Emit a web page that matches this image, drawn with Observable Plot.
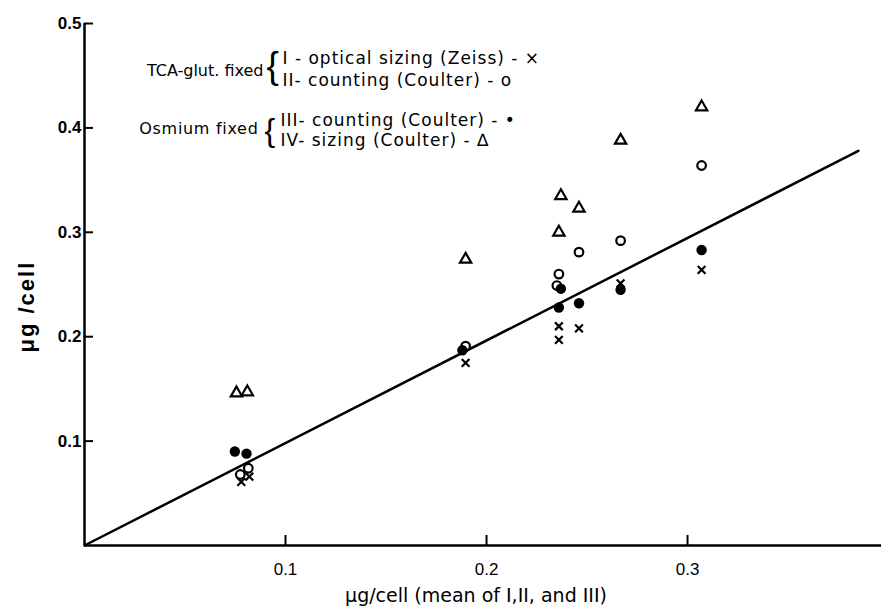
<!DOCTYPE html>
<html>
<head>
<meta charset="utf-8">
<script src="https://cdn.jsdelivr.net/npm/d3@7"></script>
<script src="https://cdn.jsdelivr.net/npm/@observablehq/plot@0.6"></script>
<style>
  html, body { margin: 0; padding: 0; background: #fff; }
  #chart { width: 881px; height: 609px; }
</style>
</head>
<body>
<div id="chart"></div>
<script>
// Series I – optical sizing (Zeiss), TCA-glut. fixed (×)
const seriesIX = [0.078, 0.082, 0.1896, 0.236, 0.236, 0.246, 0.2667, 0.307];
const seriesIY = [0.061, 0.066, 0.175, 0.210, 0.197, 0.208, 0.251, 0.264];
// Series II – counting (Coulter), TCA-glut. fixed (open circle)
const seriesIIX = [0.0775, 0.0815, 0.1896, 0.236, 0.235, 0.246, 0.2667, 0.307];
const seriesIIY = [0.068, 0.074, 0.191, 0.260, 0.249, 0.281, 0.292, 0.364];
// Series III – counting (Coulter), Osmium fixed (filled circle)
const seriesIIIX = [0.0748, 0.0806, 0.188, 0.237, 0.236, 0.246, 0.2667, 0.307];
const seriesIIIY = [0.090, 0.088, 0.187, 0.246, 0.228, 0.232, 0.245, 0.283];
// Series IV – sizing (Coulter), Osmium fixed (triangle)
const seriesIVX = [0.0756, 0.081, 0.1896, 0.237, 0.236, 0.246, 0.2667, 0.307];
const seriesIVY = [0.146, 0.147, 0.274, 0.335, 0.300, 0.323, 0.388, 0.420];
// Fitted line
const fitX = [0, 0.385];
const fitY = [0, 0.378];
// Ticks
const xTicks = [0.1, 0.2, 0.3];
const yTicks = [0.1, 0.2, 0.3, 0.4, 0.5];
// Texts
const xTitle = "μg/cell (mean of I,II, and III)";
const yTitle = "μg /cell";
const legendGroups = ["TCA-glut. fixed", "Osmium fixed"];
const legendRows = [
  "I - optical sizing (Zeiss) - ×",
  "II- counting (Coulter) - o",
  "III- counting (Coulter) - •",
  "IV- sizing (Coulter) - ∆"
];

const pts = (xs, ys) => xs.map((x, i) => ({x, y: ys[i]}));
const fit = pts(fitX, fitY);

const FONT = "Liberation Sans, Arial, sans-serif";
const LFONT = "DejaVu Sans, sans-serif";

const chart = Plot.plot({
  width: 881,
  height: 609,
  marginLeft: 84,
  marginRight: 0,
  marginTop: 23,
  marginBottom: 64,
  style: {fontFamily: FONT, background: "white", color: "black"},
  x: {domain: [0, 0.3965]},
  y: {domain: [0, 0.5]},
  marks: [
    Plot.axisY(yTicks, {tickSize: -9, tickPadding: 12, strokeWidth: 2, fontSize: 17, fontWeight: "bold", tickFormat: d3.format(".1f"), label: null}),
    Plot.axisX(xTicks, {tickSize: -10, tickPadding: 27, strokeWidth: 2, fontSize: 17, tickFormat: d3.format(".1f"), label: null}),
    Plot.ruleY([0], {strokeWidth: 2.5}),
    Plot.ruleX([0], {y1: 0, y2: 0.5, strokeWidth: 2.5}),
    Plot.line(fit, {x: "x", y: "y", strokeWidth: 2.5, stroke: "black"}),
    Plot.dot(pts(seriesIVX, seriesIVY), {x: "x", y: "y", symbol: "triangle", r: 4.2, stroke: "black", strokeWidth: 2.2, fill: "white"}),
    Plot.dot(pts(seriesIIX, seriesIIY), {x: "x", y: "y", symbol: "circle", r: 4.3, stroke: "black", strokeWidth: 2.2, fill: "white"}),
    Plot.dot(pts(seriesIIIX, seriesIIIY), {x: "x", y: "y", symbol: "circle", r: 5.2, fill: "black", stroke: "none"}),
    Plot.dot(pts(seriesIX, seriesIY), {x: "x", y: "y", symbol: "times", r: 3.6, stroke: "black", strokeWidth: 2.2}),
    // axis titles
    Plot.text([xTitle], {frameAnchor: "bottom", dx: -7, dy: 56, fontSize: 19, fontFamily: LFONT, text: d => d}),
    Plot.text([yTitle], {frameAnchor: "left", dx: -58, dy: 68, rotate: -90, fontSize: 22, fontWeight: "bold", text: d => d}),
    // legend
    Plot.text([legendGroups[0]], {frameAnchor: "top-left", dx: 179, dy: 41, textAnchor: "end", fontSize: 16, fontFamily: LFONT, text: d => d}),
    Plot.text([legendGroups[1]], {frameAnchor: "top-left", dx: 174, dy: 99, textAnchor: "end", fontSize: 16, fontFamily: LFONT, text: d => d}),
    Plot.text(["{"], {frameAnchor: "top-left", dx: 182, dy: 28, fontSize: 37, fontFamily: FONT, text: d => d}),
    Plot.text(["{"], {frameAnchor: "top-left", dx: 180, dy: 95, fontSize: 32, fontFamily: FONT, text: d => d}),
    Plot.text([legendRows[0]], {frameAnchor: "top-left", dx: 198, dy: 28, textAnchor: "start", fontSize: 17, fontFamily: LFONT, text: d => d}),
    Plot.text([legendRows[1]], {frameAnchor: "top-left", dx: 198, dy: 50, textAnchor: "start", fontSize: 17, fontFamily: LFONT, text: d => d}),
    Plot.text([legendRows[2]], {frameAnchor: "top-left", dx: 196, dy: 90, textAnchor: "start", fontSize: 17, fontFamily: LFONT, text: d => d}),
    Plot.text([legendRows[3]], {frameAnchor: "top-left", dx: 196, dy: 110, textAnchor: "start", fontSize: 17, fontFamily: LFONT, text: d => d})
  ]
});
d3.select(chart).selectAll("text")
  .filter(function () { return legendRows.includes(this.textContent); })
  .style("letter-spacing", "1px");
d3.select(chart).selectAll("text")
  .filter(function () { return this.textContent === legendGroups[1]; })
  .style("letter-spacing", "0.7px");
d3.select(chart).selectAll("text")
  .filter(function () { return this.textContent === yTitle; })
  .style("letter-spacing", "2px");
document.getElementById("chart").appendChild(chart);
</script>
</body>
</html>
